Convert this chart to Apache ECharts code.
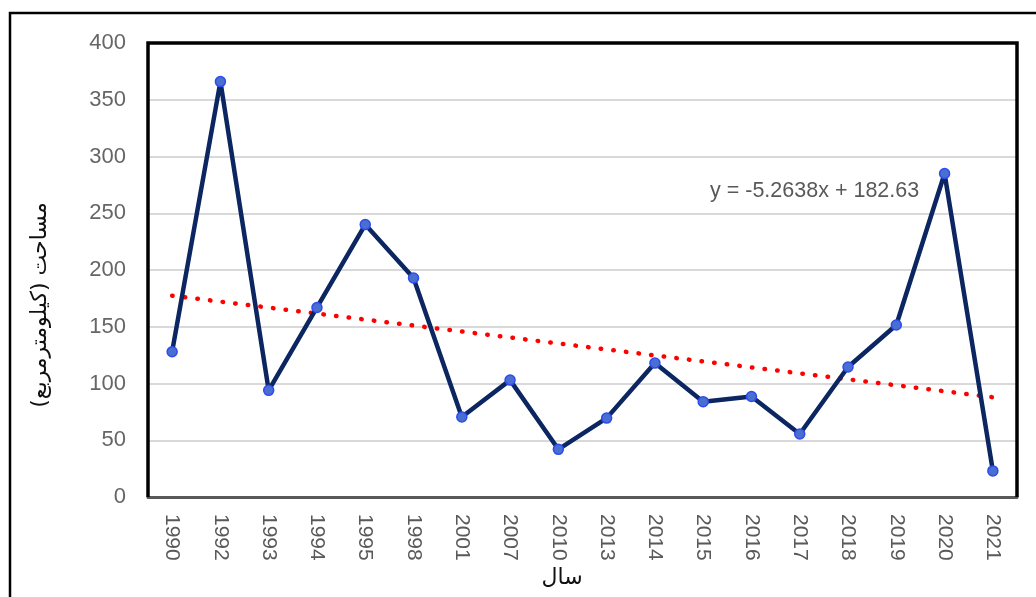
<!DOCTYPE html>
<html>
<head>
<meta charset="utf-8">
<script src="https://cdn.jsdelivr.net/npm/echarts@6/dist/echarts.min.js"></script>
<style>
html,body{margin:0;padding:0;background:#fff;}
#chart{width:1036px;height:597px;}
</style>
</head>
<body>
<div id="chart"></div>
<script>
const years = ['1990','1992','1993','1994','1995','1998','2001','2007','2010','2013','2014','2015','2016','2017','2018','2019','2020','2021'];
const areaValues = [128, 366, 94, 167, 240, 193, 70.5, 103, 42, 69.5, 118, 84, 88.5, 55.5, 114.5, 151.5, 285, 23];
const trendEnds = [177.4, 87.9];
const yTicks = [0, 50, 100, 150, 200, 250, 300, 350, 400];
const equationText = 'y = -5.2638x + 182.63';
const yTitle = '\u200Fمساحت (کیلومترمربع)\u200F';
const xTitle = 'سال';

const chart = echarts.init(document.getElementById('chart'));
const trendData = years.map((y, i) => i === 0 ? trendEnds[0] : (i === years.length - 1 ? trendEnds[1] : null));

const G = { left: 148, top: 43, right: 19, bottom: 100 };
const W = 1036, H = 597;

chart.setOption({
  animation: false,
  backgroundColor: '#fff',
  grid: { left: G.left, top: G.top, right: G.right, bottom: G.bottom, show: false },
  xAxis: {
    type: 'category',
    data: years,
    boundaryGap: true,
    axisLine: { show: true, lineStyle: { color: '#595959', width: 3 } },
    axisTick: { show: false },
    axisLabel: { rotate: -90, color: '#595959', fontSize: 21, fontFamily: 'Liberation Sans', margin: 17 }
  },
  yAxis: {
    type: 'value',
    min: yTicks[0], max: yTicks[yTicks.length - 1], interval: 50,
    axisLine: { show: false },
    axisTick: { show: false },
    splitLine: { show: true, lineStyle: { color: '#d9d9d9', width: 2 } },
    axisLabel: { color: '#666666', fontSize: 22, fontFamily: 'Liberation Sans', margin: 22 }
  },
  series: [
    {
      type: 'line',
      data: areaValues,
      z: 3,
      lineStyle: { color: '#0b2660', width: 4.5 },
      itemStyle: { color: '#4a6fd0', borderColor: '#2d4cf0', borderWidth: 1.5 },
      symbol: 'circle',
      symbolSize: 10,
      showSymbol: true
    },
    {
      type: 'line',
      data: trendData,
      connectNulls: true,
      z: 2,
      symbol: 'none',
      lineStyle: { color: '#ff0000', width: 4.5, type: [0.5, 12.2], cap: 'round' }
    }
  ],
  graphic: [
    {
      type: 'rect',
      shape: { x: 10, y: 13, width: 1060, height: 620 },
      style: { fill: 'none', stroke: '#000', lineWidth: 2.5 },
      silent: true
    },
    {
      type: 'polyline',
      z: 50,
      shape: { points: [[G.left, H - G.bottom], [G.left, G.top], [W - G.right, G.top], [W - G.right, H - G.bottom]] },
      style: { fill: 'none', stroke: '#000', lineWidth: 3.5, lineJoin: 'miter' },
      silent: true
    },
    {
      type: 'text',
      x: 710, y: 191,
      style: { text: equationText, fill: '#595959', fontSize: 21.5, fontFamily: 'Liberation Sans', align: 'left', verticalAlign: 'middle' }
    },
    {
      type: 'text',
      x: 40, y: 305,
      rotation: Math.PI / 2,
      style: { text: yTitle, fill: '#111', fontSize: 22, fontFamily: 'DejaVu Sans', align: 'center', verticalAlign: 'middle' }
    },
    {
      type: 'text',
      x: 562, y: 578,
      style: { text: xTitle, fill: '#111', fontSize: 22, fontFamily: 'DejaVu Sans', align: 'center', verticalAlign: 'middle' }
    }
  ]
});
</script>
</body>
</html>
